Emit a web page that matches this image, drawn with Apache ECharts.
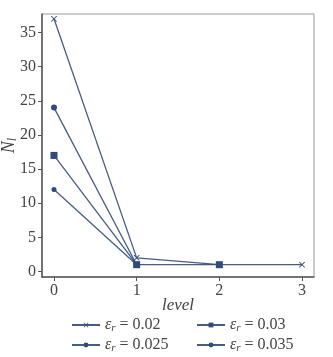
<!DOCTYPE html>
<html>
<head>
<meta charset="utf-8">
<script src="https://cdn.jsdelivr.net/npm/echarts@6/dist/echarts.min.js"></script>
<style>
  html, body { margin: 0; padding: 0; background: #fff; }
  #chart { width: 333px; height: 357px; }
</style>
</head>
<body>
<div id="chart"></div>
<script>
  // data
  var levels = [0, 1, 2, 3]
  var nEps002 = [37, 2, 1, 1]
  var nEps0025 = [24, 1]
  var nEps003 = [17, 1, 1]
  var nEps0035 = [12, 1]
  var yTicks = [0, 5, 10, 15, 20, 25, 30, 35]
  var names = ['0.02', '0.025', '0.03', '0.035']

  var col = '#2f4b78'
  var font = 'Liberation Serif'
  var cross = 'path://M0,1L1,0L5,4L9,0L10,1L6,5L10,9L9,10L5,6L1,10L0,9L4,5Z'

  function pts (vals) {
    return vals.map(function (v, i) { return [levels[i], v] })
  }

  var rich = {
    e: { fontFamily: font, fontStyle: 'italic', fontSize: 16, color: '#444' },
    s: { fontFamily: font, fontStyle: 'italic', fontSize: 11, color: '#444', verticalAlign: 'bottom', padding: [7, 0, 0, 0] },
    n: { fontFamily: font, fontSize: 16, color: '#444' }
  }

  function legendAt (name, left, top) {
    return {
      data: [name],
      left: left,
      top: top,
      itemWidth: 28,
      itemHeight: 6,
      itemGap: 8,
      formatter: function (n) { return '{e|ε}{s|r}{n| = ' + n + '}' },
      textStyle: { rich: rich }
    }
  }

  var myChart = echarts.init(document.getElementById('chart'))
  myChart.setOption({
    animation: false,
    backgroundColor: '#fff',
    grid: {
      show: true,
      left: 42,
      right: 19,
      top: 14,
      bottom: 80,
      outerBoundsMode: 'none',
      containLabel: false,
      borderColor: '#999',
      borderWidth: 1
    },
    legend: [
      legendAt(names[0], 66, 312),
      legendAt(names[2], 191, 312),
      legendAt(names[1], 66, 332),
      legendAt(names[3], 191, 332)
    ],
    xAxis: {
      type: 'value',
      min: -0.145,
      max: 3.145,
      name: 'level',
      nameLocation: 'middle',
      nameGap: 20,
      nameMoveOverlap: false,
      nameTextStyle: { fontFamily: font, fontStyle: 'italic', fontSize: 17, color: '#444' },
      axisLine: { onZero: false, lineStyle: { color: '#555', width: 1.5 } },
      axisTick: { show: true, length: 4, customValues: levels, lineStyle: { color: '#555' } },
      axisLabel: { customValues: levels, fontFamily: font, fontSize: 16, color: '#444', margin: 6 },
      splitLine: { show: false }
    },
    yAxis: {
      type: 'value',
      min: -0.8,
      max: 37.7,
      name: '{n|N}{s|l}',
      nameLocation: 'middle',
      nameGap: 23,
      nameRotate: 90,
      nameMoveOverlap: false,
      nameTextStyle: {
        rich: {
          n: { fontFamily: font, fontStyle: 'italic', fontSize: 18, color: '#444' },
          s: { fontFamily: font, fontStyle: 'italic', fontSize: 12, color: '#444', verticalAlign: 'bottom', padding: [7, 0, 0, 0] }
        }
      },
      axisLine: { show: true, onZero: false, lineStyle: { color: '#555', width: 1.5 } },
      axisTick: { show: true, length: 4, customValues: yTicks, lineStyle: { color: '#555' } },
      axisLabel: { customValues: yTicks, fontFamily: font, fontSize: 16, color: '#444', margin: 6 },
      splitLine: { show: false }
    },
    series: [
      { name: names[0], type: 'line', data: pts(nEps002), symbol: cross, symbolSize: 6 },
      { name: names[1], type: 'line', data: pts(nEps0025), symbol: 'circle', symbolSize: 6 },
      { name: names[2], type: 'line', data: pts(nEps003), symbol: 'rect', symbolSize: 7 },
      { name: names[3], type: 'line', data: pts(nEps0035), symbol: 'circle', symbolSize: 5 }
    ].map(function (s) {
      s.color = col
      s.lineStyle = { color: col, width: 1.3, opacity: 0.9 }
      s.itemStyle = { color: col }
      return s
    })
  })
</script>
</body>
</html>
